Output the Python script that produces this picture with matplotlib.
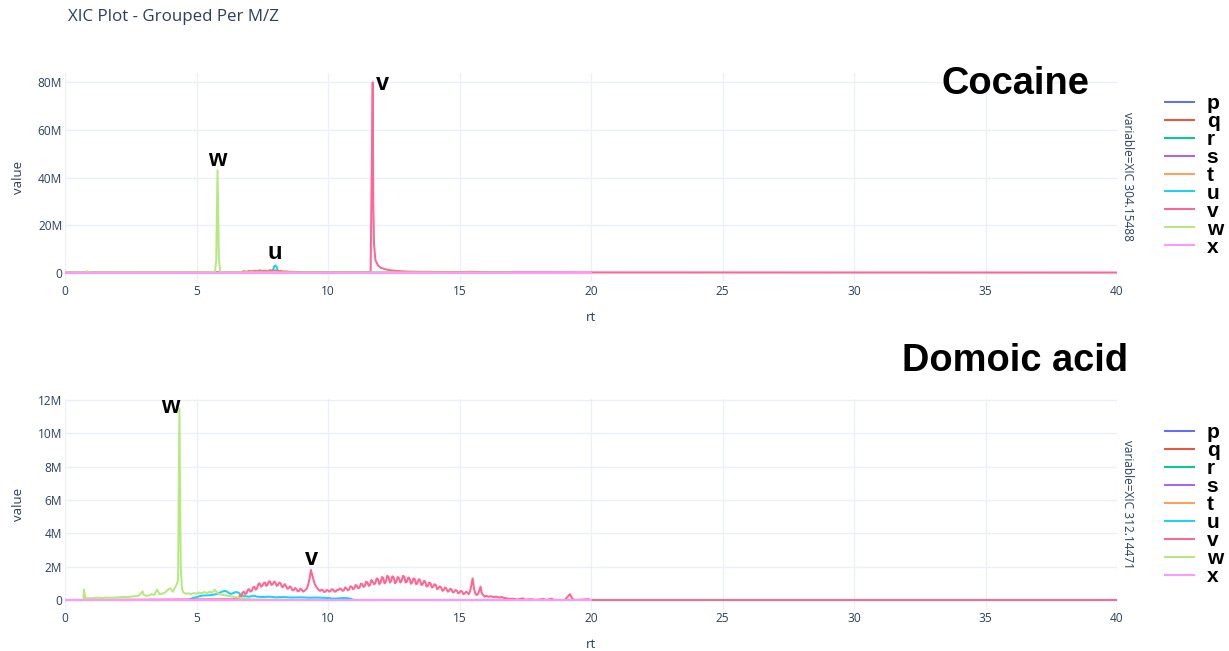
import matplotlib
matplotlib.use("Agg")
import matplotlib.pyplot as plt
from matplotlib.ticker import FuncFormatter, MultipleLocator
from matplotlib.lines import Line2D

# XIC traces per m/z, intensities in millions of counts, rt in minutes
letters = ["p", "q", "r", "s", "t", "u", "v", "w", "x"]
colors = ["#636EFA", "#EF553B", "#00CC96", "#AB63FA", "#FFA15A",
          "#19D3F3", "#FF6692", "#B6E880", "#FF97FF"]

# --- XIC 304.15488 (cocaine) ---
coc_rt_flat = [0, 17.0]
coc_flat = [0, 0]

coc_rt_u = [0, 7.85, 7.9, 7.95, 8.0, 8.05, 8.1, 8.2, 17.0]
coc_u = [0, 0.1, 0.8, 2.5, 3.0, 2.2, 0.6, 0.1, 0]

coc_rt_v = [0, 6.7, 6.8, 6.9, 7.0, 7.1, 7.2, 7.3, 7.4, 7.5, 7.6, 7.7, 7.8, 7.9,
            8.0, 8.1, 8.2, 8.3, 8.4, 8.5, 8.6, 8.8, 9.0, 10.0, 11.0, 11.5, 11.62,
            11.66, 11.70, 11.72, 11.75, 11.8, 11.9, 12.0, 12.2, 12.4, 12.7, 13.0,
            13.5, 14.0, 15.0, 15.5, 16.0, 17.0, 20.0, 40.0]
coc_v = [0, 0.1, 0.6, 0.3, 0.7, 0.4, 0.8, 0.5, 0.9, 0.6, 0.8, 0.5, 1.0, 0.7,
         0.9, 0.6, 0.7, 0.4, 0.5, 0.3, 0.3, 0.2, 0.15, 0.1, 0.12, 0.15, 0.3,
         40, 80, 30, 12, 5.3, 3.0, 2.0, 1.3, 0.9, 0.6, 0.4,
         0.3, 0.25, 0.2, 0.3, 0.15, 0.1, 0.05, 0]

coc_rt_w = [0, 0.8, 0.85, 0.9, 5.0, 5.7, 5.75, 5.8, 5.85, 5.9, 6.0, 8.0, 17.0]
coc_w = [0.05, 0.05, 0.6, 0.05, 0.1, 0.15, 5, 43, 6, 0.3, 0.1, 0.05, 0]

coc_rt_x = [0, 20.0]
coc_x = [0, 0]

# --- XIC 312.14471 (domoic acid) ---
dom_rt_flat = [0, 17.0]
dom_flat = [0, 0]

dom_rt_u = [4.7, 4.8, 5.0, 5.2, 5.4, 5.6, 5.8, 5.9, 6.0, 6.1, 6.2, 6.3, 6.4,
            6.5, 6.6, 6.7, 6.8, 7.0, 7.2, 7.3, 7.5, 7.8, 8.0, 8.3, 8.6, 9.0,
            9.3, 9.6, 10.0, 10.2, 10.4, 10.6, 10.8, 11.0]
dom_u = [0, 0.08, 0.18, 0.26, 0.28, 0.3, 0.38, 0.45, 0.52, 0.55, 0.46, 0.36,
         0.42, 0.48, 0.44, 0.3, 0.24, 0.2, 0.26, 0.2, 0.18, 0.2, 0.16, 0.18,
         0.15, 0.16, 0.14, 0.15, 0.12, 0.08, 0.1, 0.12, 0.1, 0.0]

# v scans every 0.05 min from 6.60 to 16.00
dom_rt_v_scan = [round(6.6 + 0.05 * i, 2) for i in range(189)]
dom_v_scan = [
    0.05, 0.3, 0.2, 0.45, 0.5, 0.35, 0.4, 0.6, 0.65, 0.5, 0.55, 0.75, 0.8, 0.62, 0.7, 0.95, 1.0, 0.8, 0.85, 1.0,
    1.05, 0.85, 0.9, 1.12, 1.1, 0.9, 0.95, 1.1, 1.05, 0.85, 0.9, 1.05, 1.0, 0.78, 0.8, 0.95, 0.85, 0.68, 0.7, 0.82,
    0.75, 0.58, 0.6, 0.72, 0.65, 0.52, 0.55, 0.68, 0.62, 0.5, 0.55, 0.62, 0.7, 0.95, 1.3, 1.8, 1.5, 1.2, 0.95, 0.8,
    0.7, 0.6, 0.55, 0.62, 0.6, 0.48, 0.5, 0.6, 0.58, 0.5, 0.55, 0.65, 0.62, 0.5, 0.52, 0.62, 0.6, 0.7, 0.65, 0.55,
    0.58, 0.75, 0.7, 0.58, 0.62, 0.82, 0.8, 0.65, 0.7, 0.9, 0.85, 0.7, 0.75, 0.98, 0.95, 0.78, 0.85, 1.1, 1.05, 0.85,
    0.9, 1.2, 1.1, 0.95, 1.0, 1.3, 1.25, 0.95, 1.05, 1.38, 1.3, 1.0, 1.1, 1.45, 1.4, 1.05, 1.15, 1.42, 1.35, 1.0,
    1.1, 1.38, 1.3, 1.05, 1.15, 1.45, 1.4, 1.05, 1.1, 1.35, 1.3, 0.98, 1.05, 1.3, 1.25, 0.95, 1.0, 1.25, 1.2, 0.9,
    0.95, 1.15, 1.1, 0.8, 0.85, 1.05, 1.0, 0.75, 0.8, 0.95, 0.9, 0.65, 0.7, 0.82, 0.75, 0.55, 0.6, 0.75, 0.7, 0.5,
    0.55, 0.68, 0.62, 0.45, 0.5, 0.6, 0.55, 0.4, 0.45, 0.55, 0.5, 0.35, 0.4, 0.5, 0.45, 0.35, 0.5, 0.9, 1.3, 0.7,
    0.4, 0.3, 0.35, 0.55, 0.8, 0.4, 0.3, 0.2, 0.25,
]
dom_rt_v_tail = [16.1, 16.2, 16.3, 16.4, 16.5, 16.6, 16.7, 16.8, 16.9, 17.0,
                 17.2, 17.4, 17.5, 17.7, 17.9, 18.2, 18.3, 18.5, 18.6, 19.0,
                 19.2, 19.3, 19.4, 19.9, 20.0, 40.0]
dom_v_tail = [0.2, 0.22, 0.18, 0.2, 0.15, 0.18, 0.12, 0.1, 0.06, 0.08,
              0.03, 0.1, 0.02, 0.05, 0.01, 0.06, 0.0, 0.08, 0.0, 0.0,
              0.35, 0.05, 0.0, 0.05, 0, 0]
dom_rt_v = [0.0] + dom_rt_v_scan + dom_rt_v_tail
dom_v = [0.0] + dom_v_scan + dom_v_tail

dom_rt_w = [0.70, 0.72, 0.78, 0.85, 1.0, 1.2, 1.4, 1.6, 1.8, 2.0, 2.2, 2.4, 2.6,
            2.8, 2.95, 3.0, 3.1, 3.2, 3.3, 3.4, 3.5, 3.6, 3.7, 3.8, 3.9, 4.0,
            4.1, 4.2, 4.25, 4.3, 4.35, 4.4, 4.45, 4.5, 4.6, 4.7, 4.8, 4.9, 5.0,
            5.1, 5.2, 5.3, 5.4, 5.5, 5.6, 5.7, 5.8, 5.9, 6.0, 6.2, 6.4, 6.6,
            6.8, 7.0, 7.2, 7.5, 8.0, 10.0, 20.0]
dom_w = [0.0, 0.62, 0.1, 0.12, 0.1, 0.14, 0.12, 0.15, 0.13, 0.16, 0.18, 0.17,
         0.22, 0.25, 0.52, 0.3, 0.25, 0.28, 0.35, 0.3, 0.62, 0.35, 0.38, 0.45,
         0.6, 0.7, 0.5, 0.8, 0.95, 1.2, 11.5, 2.0, 0.66, 0.45, 0.38, 0.4, 0.35,
         0.42, 0.38, 0.45, 0.4, 0.48, 0.42, 0.5, 0.45, 0.62, 0.4, 0.35, 0.3,
         0.25, 0.2, 0.15, 0.1, 0.05, 0.03, 0.02, 0.01, 0, 0]

dom_rt_x = [0, 20.0]
dom_x = [0, 0]

coc_traces = {
    "p": (coc_rt_flat, coc_flat), "q": (coc_rt_flat, coc_flat),
    "r": (coc_rt_flat, coc_flat), "s": (coc_rt_flat, coc_flat),
    "t": (coc_rt_flat, coc_flat), "u": (coc_rt_u, coc_u),
    "v": (coc_rt_v, coc_v), "w": (coc_rt_w, coc_w), "x": (coc_rt_x, coc_x),
}
dom_traces = {
    "p": (dom_rt_flat, dom_flat), "q": (dom_rt_flat, dom_flat),
    "r": (dom_rt_flat, dom_flat), "s": (dom_rt_flat, dom_flat),
    "t": (dom_rt_flat, dom_flat), "u": (dom_rt_u, dom_u),
    "v": (dom_rt_v, dom_v), "w": (dom_rt_w, dom_w), "x": (dom_rt_x, dom_x),
}

TXT = "#2a3f5f"
GRID = "#EBF0F8"
W, H = 1229, 651


def fx(px):
    return px / W


def fy(py):
    return 1 - py / H


def draw_panel(ax, traces, ylim, ystep):
    for name, col in zip(letters, colors):
        rt, val = traces[name]
        ax.plot(rt, val, color=col, lw=1.45, label=name, solid_joinstyle="round")
    ax.set_xlim(0, 40)
    ax.set_ylim(*ylim)
    ax.xaxis.set_major_locator(MultipleLocator(5))
    ax.yaxis.set_major_locator(MultipleLocator(ystep))
    ax.yaxis.set_major_formatter(FuncFormatter(lambda v, p: "0" if v == 0 else f"{v:g}M"))
    ax.grid(color=GRID, lw=1)
    ax.set_axisbelow(True)
    for sp in ax.spines.values():
        sp.set_visible(False)
    ax.tick_params(length=0, labelsize=8.6, labelcolor=TXT, pad=2)
    for lab in ax.get_xticklabels() + ax.get_yticklabels():
        lab.set_family("Open Sans")
    ax.set_xlabel("rt", fontsize=9.5, color=TXT, family="Open Sans")
    ax.set_ylabel("value", fontsize=9.5, color=TXT, family="Open Sans")
    ax.xaxis.set_label_coords(0.5, -0.135)
    ax.yaxis.set_label_coords(-0.038, 0.5)
    handles = [Line2D([], [], color=c, lw=1.45) for c in colors]
    return handles


fig = plt.figure(figsize=(W / 100, H / 100), dpi=100)
ax1 = fig.add_axes([fx(65), fy(282.5), fx(1117 - 65), (282.5 - 72.5) / H])
ax2 = fig.add_axes([fx(65), fy(609.6), fx(1117 - 65), (609.6 - 398.7) / H])

h1 = draw_panel(ax1, coc_traces, (-4.2, 84.2), 20)
h2 = draw_panel(ax2, dom_traces, (-0.575, 12.08), 2)

bold = dict(family="Liberation Sans", weight="bold", color="black", fontsize=17,
            ha="center", va="baseline")
ax1.text(12.09, 76.8, "v", **bold)
ax1.text(5.78, 44.8, "w", **bold)
ax1.text(7.98, 5.5, "u", **bold)
ax2.text(3.99, 11.2, "w", **bold)
ax2.text(9.39, 2.1, "v", **bold)

fig.text(fx(1015), fy(94), "Cocaine", family="Liberation Sans", weight="bold",
         fontsize=27.4, ha="center", va="baseline")
fig.text(fx(1015), fy(371), "Domoic acid", family="Liberation Sans", weight="bold",
         fontsize=27.4, ha="center", va="baseline")

fig.text(fx(1127), fy(176), "variable=XIC 304.15488", rotation=-90, fontsize=8.6,
         color=TXT, family="Open Sans", ha="center", va="center")
fig.text(fx(1127), fy(504), "variable=XIC 312.14471", rotation=-90, fontsize=8.6,
         color=TXT, family="Open Sans", ha="center", va="center")

fig.text(fx(68), fy(17), "XIC Plot - Grouped Per M/Z", fontsize=12.2, color=TXT,
         family="Open Sans", ha="left", va="center")

leg_font = dict(family="Liberation Sans", weight="bold", size=15)
for ax, h, top in [(ax1, h1, 94), (ax2, h2, 423.5)]:
    ax.legend(h, letters, loc="upper left", bbox_to_anchor=(fx(1165), fy(top)),
              bbox_transform=fig.transFigure, frameon=False, prop=leg_font,
              handlelength=1.4, handletextpad=0.6, labelspacing=-0.05,
              borderpad=0, borderaxespad=0)

fig.savefig("out.png", dpi=100)
